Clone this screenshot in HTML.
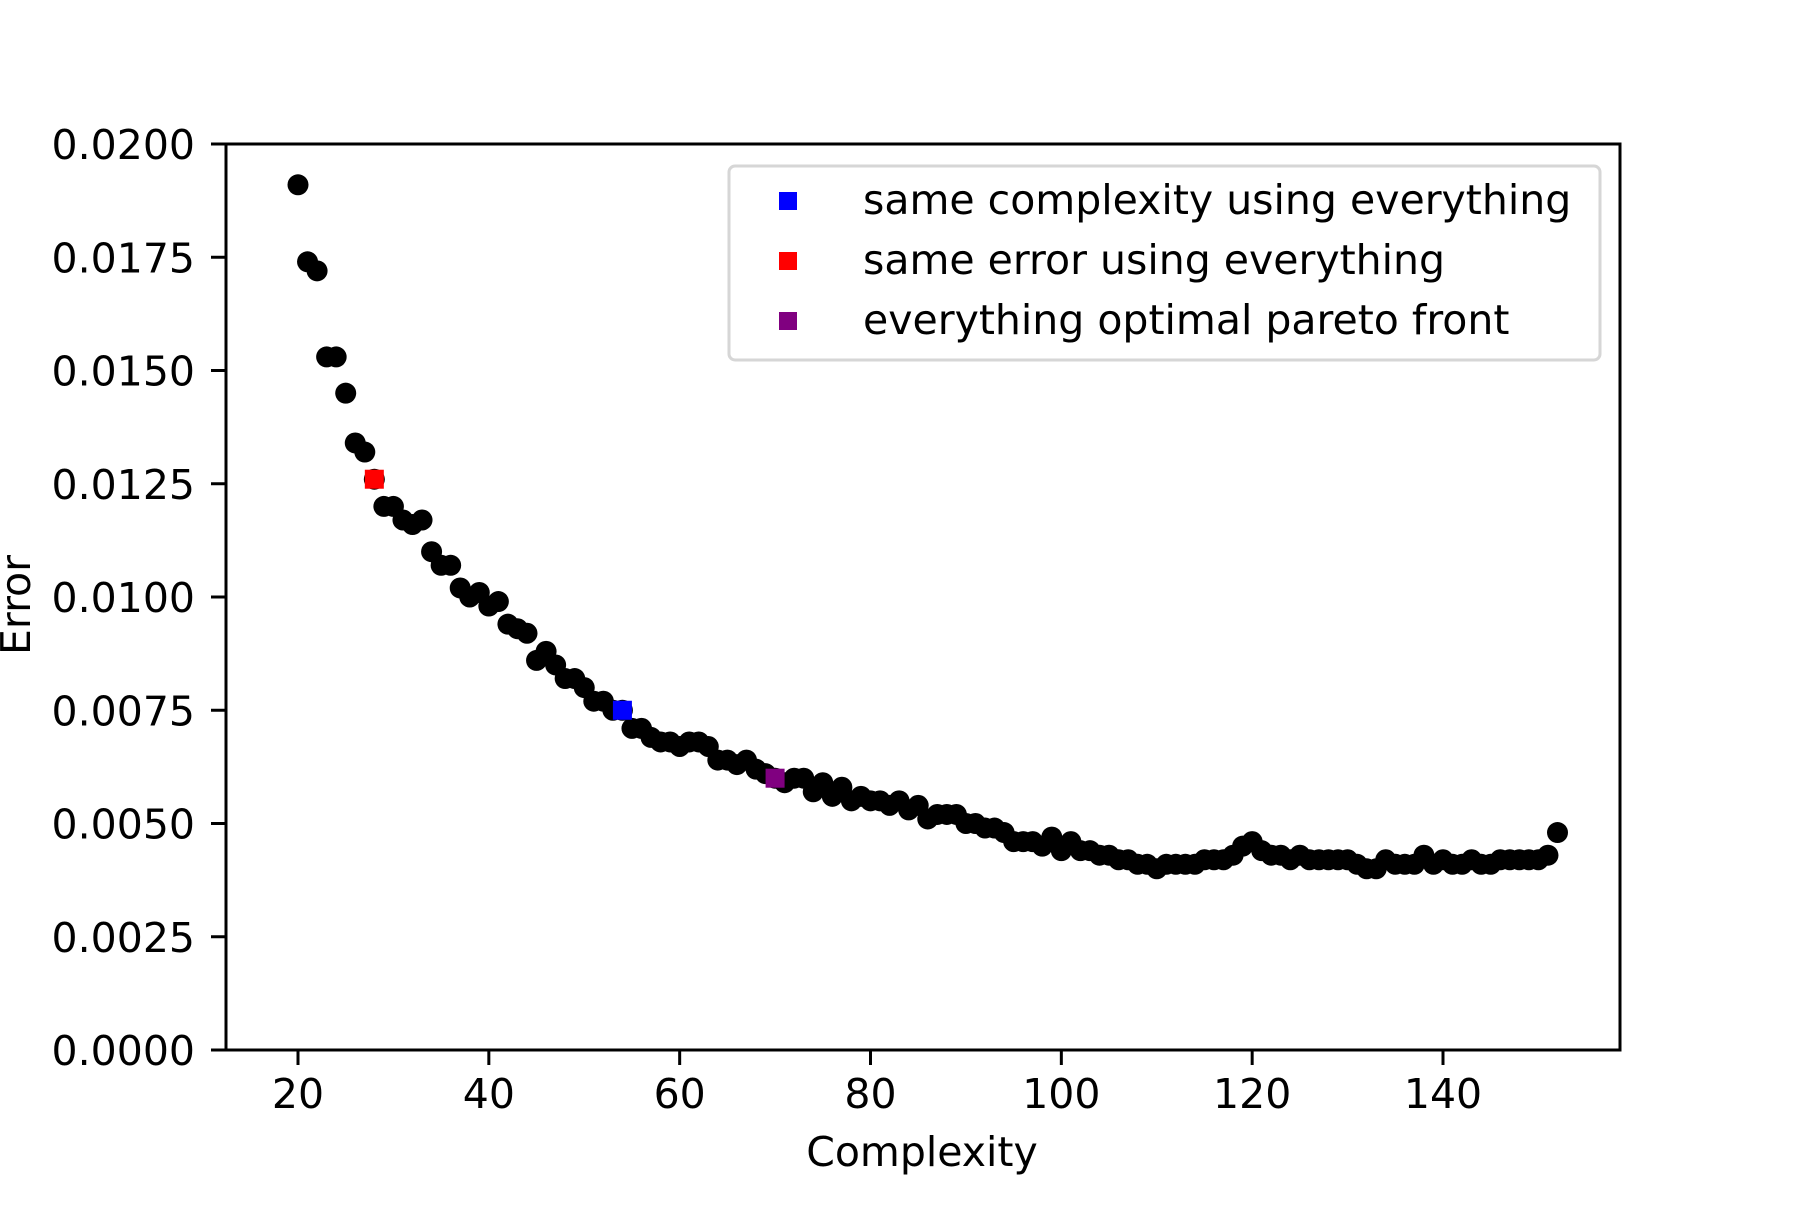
<!DOCTYPE html>
<html><head><meta charset="utf-8"><style>
html,body{margin:0;padding:0;background:#fff}
svg text{font-family:"DejaVu Sans","Liberation Sans",sans-serif;fill:#000}
</style></head><body>
<svg id="chart" width="1800" height="1200" viewBox="0 0 1800 1200" xmlns="http://www.w3.org/2000/svg">
<g id="marks"></g>
<g id="axes"></g>
<g id="legend">
<rect x="729" y="166" width="871" height="194" rx="6" fill="#fff" fill-opacity="0.8" stroke="#d6d6d6" stroke-width="3"/>
<rect x="779" y="192" width="18" height="18" fill="#0000ff"/>
<text x="863" y="214" font-size="41">same complexity using everything</text>
<rect x="779" y="252" width="18" height="18" fill="#ff0000"/>
<text x="863" y="274" font-size="41">same error using everything</text>
<rect x="779" y="312" width="18" height="18" fill="#800080"/>
<text x="863" y="334" font-size="41">everything optimal pareto front</text>
</g>
<text x="922" y="1166" font-size="41" text-anchor="middle">Complexity</text>
<text x="0" y="0" font-size="41" text-anchor="middle" transform="translate(30,605) rotate(-90)">Error</text>
</svg>
<script>
const complexity = [20,21,22,23,24,25,26,27,28,29,30,31,32,33,34,35,36,37,38,39,40,41,42,43,44,45,46,47,48,49,50,51,52,53,54,55,56,57,58,59,60,61,62,63,64,65,66,67,68,69,70,71,72,73,74,75,76,77,78,79,80,81,82,83,84,85,86,87,88,89,90,91,92,93,94,95,96,97,98,99,100,101,102,103,104,105,106,107,108,109,110,111,112,113,114,115,116,117,118,119,120,121,122,123,124,125,126,127,128,129,130,131,132,133,134,135,136,137,138,139,140,141,142,143,144,145,146,147,148,149,150,151,152];
const errors = [0.0191,0.0174,0.0172,0.0153,0.0153,0.0145,0.0134,0.0132,0.0126,0.0120,0.0120,0.0117,0.0116,0.0117,0.0110,0.0107,0.0107,0.0102,0.0100,0.0101,0.0098,0.0099,0.0094,0.0093,0.0092,0.0086,0.0088,0.0085,0.0082,0.0082,0.0080,0.0077,0.0077,0.0075,0.0075,0.0071,0.0071,0.0069,0.0068,0.0068,0.0067,0.0068,0.0068,0.0067,0.0064,0.0064,0.0063,0.0064,0.0062,0.0061,0.0060,0.0059,0.0060,0.0060,0.0057,0.0059,0.0056,0.0058,0.0055,0.0056,0.0055,0.0055,0.0054,0.0055,0.0053,0.0054,0.0051,0.0052,0.0052,0.0052,0.0050,0.0050,0.0049,0.0049,0.0048,0.0046,0.0046,0.0046,0.0045,0.0047,0.0044,0.0046,0.0044,0.0044,0.0043,0.0043,0.0042,0.0042,0.0041,0.0041,0.0040,0.0041,0.0041,0.0041,0.0041,0.0042,0.0042,0.0042,0.0043,0.0045,0.0046,0.0044,0.0043,0.0043,0.0042,0.0043,0.0042,0.0042,0.0042,0.0042,0.0042,0.0041,0.0040,0.0040,0.0042,0.0041,0.0041,0.0041,0.0043,0.0041,0.0042,0.0041,0.0041,0.0042,0.0041,0.0041,0.0042,0.0042,0.0042,0.0042,0.0042,0.0043,0.0048];
const specialNames = ["same-error-point","same-complexity-point","optimal-front-point"];
const specialX = [28,54,70];
const specialY = [0.0126,0.0075,0.0060];
const specialColors = ["#ff0000","#0000ff","#800080"];
const xTicks = [20,40,60,80,100,120,140];
const yTicks = [0,0.0025,0.005,0.0075,0.01,0.0125,0.015,0.0175,0.02];
const yTickLabels = ["0.0000","0.0025","0.0050","0.0075","0.0100","0.0125","0.0150","0.0175","0.0200"];

const L=226,R=1620,T=144,B=1050;
const xS = v => 298 + (v-20)*(1443-298)/120;
const yS = v => B - v*(B-T)/0.02;
const NS="http://www.w3.org/2000/svg";
function mk(tag, attrs, parent){const e=document.createElementNS(NS,tag);for(const k in attrs)e.setAttribute(k,attrs[k]);parent.appendChild(e);return e;}
const marks=document.getElementById('marks'), axes=document.getElementById('axes');
complexity.forEach((c,i)=>{
  const e=mk('ellipse',{cx:xS(c),cy:yS(errors[i]),rx:10.5,ry:10.5,fill:'#000'},marks);
  
  
});
specialX.forEach((c,i)=>{
  const e=mk('rect',{x:xS(c)-9.5,y:yS(specialY[i])-9.5,width:19,height:19,fill:specialColors[i]},marks);
  
  
});
const frame=mk('rect',{x:L,y:T,width:R-L,height:B-T,fill:'none',stroke:'#000','stroke-width':3},axes);


xTicks.forEach(v=>{
  const x=xS(v);
  const t=mk('line',{x1:x,x2:x,y1:B,y2:B+15,stroke:'#000','stroke-width':3},axes);
  
  
  const l=mk('text',{x:x,y:B+58,'font-size':41,'text-anchor':'middle'},axes);
  l.textContent=v;
  
  
});
yTicks.forEach((v,i)=>{
  const y=yS(v);
  const t=mk('line',{x1:L-15,x2:L,y1:y,y2:y,stroke:'#000','stroke-width':3},axes);
  
  
  const l=mk('text',{x:195,y:y+15,'font-size':41,'text-anchor':'end'},axes);
  l.textContent=yTickLabels[i];
  
  
});
</script>
</body></html>
